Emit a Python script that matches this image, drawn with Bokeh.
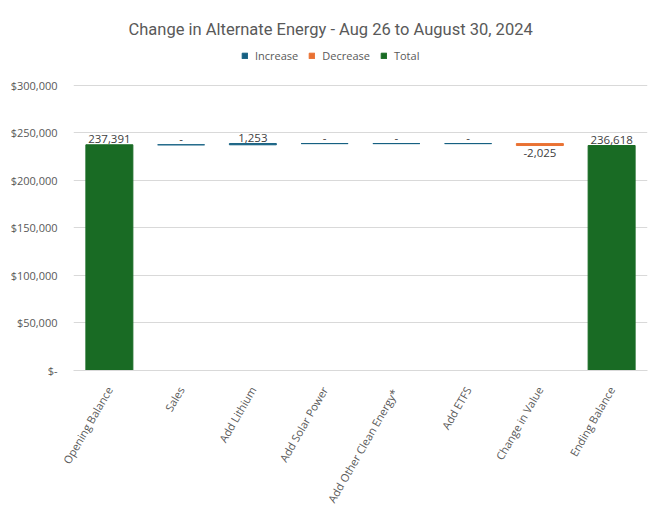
import math
from bokeh.plotting import figure
from bokeh.models import ColumnDataSource, Legend, LegendItem, FixedTicker, Title, Range1d
from bokeh.core.properties import value
from bokeh.embed import file_html
from bokeh.resources import INLINE

categories = ["Opening Balance", "Sales", "Add Lithium", "Add Solar Power",
              "Add  Other Clean Energy*", "Add ETFS", "Change in Value", "Ending Balance"]
values = [237391, 0, 1253, 0, 0, 0, -2025, 236618]
kinds = ["Total", "Increase", "Increase", "Increase", "Increase", "Increase", "Decrease", "Total"]
y_ticks = [0, 50000, 100000, 150000, 200000, 250000, 300000]
y_tick_labels = ["$-", "$50,000", "$100,000", "$150,000", "$200,000", "$250,000", "$300,000"]

colors = {"Increase": "#156082", "Decrease": "#E97132", "Total": "#196B24"}
GREY = "#595959"
FONT = "Open Sans"

# waterfall geometry from the values
bottoms, tops = [], []
level = 0
for v, k in zip(values, kinds):
    if k == "Total":
        bottoms.append(0)
        tops.append(v)
        level = v
    else:
        new = level + v
        bottoms.append(min(level, new))
        tops.append(max(level, new))
        level = new

labels = ["-" if v == 0 else f"{v:,}" for v in values]

# layout: frame spans from legend band down to the x axis; the axis max (300k) sits 40px below frame top
W, H = 655, 511
B_LEFT, B_RIGHT, B_TOP, B_BOTTOM = 73, 8, 45, 139
frame_h = H - B_TOP - B_BOTTOM
axis_px = frame_h - 40
y_end = y_ticks[-1] * frame_h / axis_px

p = figure(x_range=categories, y_range=Range1d(0, y_end), width=W, height=H,
           output_backend="svg", toolbar_location=None,
           min_border_left=B_LEFT, min_border_right=B_RIGHT,
           min_border_top=B_TOP, min_border_bottom=B_BOTTOM)
p.background_fill_color = "white"
p.border_fill_color = "white"
p.outline_line_color = None

items = []
for kind in ["Increase", "Decrease", "Total"]:
    idx = [i for i, k in enumerate(kinds) if k == kind]
    src = ColumnDataSource(dict(x=[categories[i] for i in idx],
                                top=[tops[i] for i in idx],
                                bottom=[bottoms[i] for i in idx]))
    r = p.vbar(x="x", top="top", bottom="bottom", width=0.655, source=src,
               fill_color=colors[kind], line_color=colors[kind], line_width=1)
    items.append(LegendItem(label=kind, renderers=[r]))

# data labels
up_idx = [i for i, k in enumerate(kinds) if k != "Decrease"]
dn_idx = [i for i, k in enumerate(kinds) if k == "Decrease"]
up_src = ColumnDataSource(dict(x=[categories[i] for i in up_idx],
                               y=[tops[i] for i in up_idx],
                               t=[labels[i] for i in up_idx]))
dn_src = ColumnDataSource(dict(x=[categories[i] for i in dn_idx],
                               y=[bottoms[i] for i in dn_idx],
                               t=[labels[i] for i in dn_idx]))
p.text(x="x", y="y", text="t", source=up_src, text_align="center", text_baseline="bottom",
       y_offset=-2, text_font_size="11.5px", text_color="#404040", text_font=value(FONT))
p.text(x="x", y="y", text="t", source=dn_src, text_align="center", text_baseline="top",
       y_offset=3, text_font_size="11.5px", text_color="#404040", text_font=value(FONT))

legend = Legend(items=items, orientation="horizontal", location=(168, frame_h - 20),
                glyph_width=7, glyph_height=7, label_height=14, label_text_font_size="11px",
                label_text_color=GREY, label_text_font=FONT,
                border_line_color=None, background_fill_alpha=0,
                spacing=10, label_standoff=7, padding=0, margin=0)
p.add_layout(legend, "center")

p.title = Title(text="Change in Alternate Energy - Aug 26 to August 30, 2024",
                align="left", text_font="Roboto", text_font_size="16.5px",
                text_font_style="normal", text_color=GREY, offset=55, standoff=14)

p.yaxis.ticker = FixedTicker(ticks=y_ticks)
p.yaxis.major_label_overrides = {t: l for t, l in zip(y_ticks, y_tick_labels)}
p.yaxis.axis_line_color = None
p.yaxis.major_tick_line_color = None
p.yaxis.minor_tick_line_color = None
p.yaxis.major_label_text_font = FONT
p.yaxis.major_label_text_font_size = "11px"
p.yaxis.major_label_text_color = GREY
p.yaxis.major_label_standoff = 10

p.xaxis.axis_line_color = "#D9D9D9"
p.xaxis.major_tick_line_color = None
p.xaxis.minor_tick_line_color = None
p.xaxis.major_label_orientation = math.radians(60)
p.xaxis.major_label_text_font = FONT
p.xaxis.major_label_text_font_size = "11px"
p.xaxis.major_label_text_color = GREY
p.xaxis.major_label_standoff = 11

p.xgrid.grid_line_color = None
p.ygrid.grid_line_color = "#D9D9D9"
p.ygrid.ticker = FixedTicker(ticks=y_ticks)

open("out.html", "w").write(file_html(p, INLINE))
